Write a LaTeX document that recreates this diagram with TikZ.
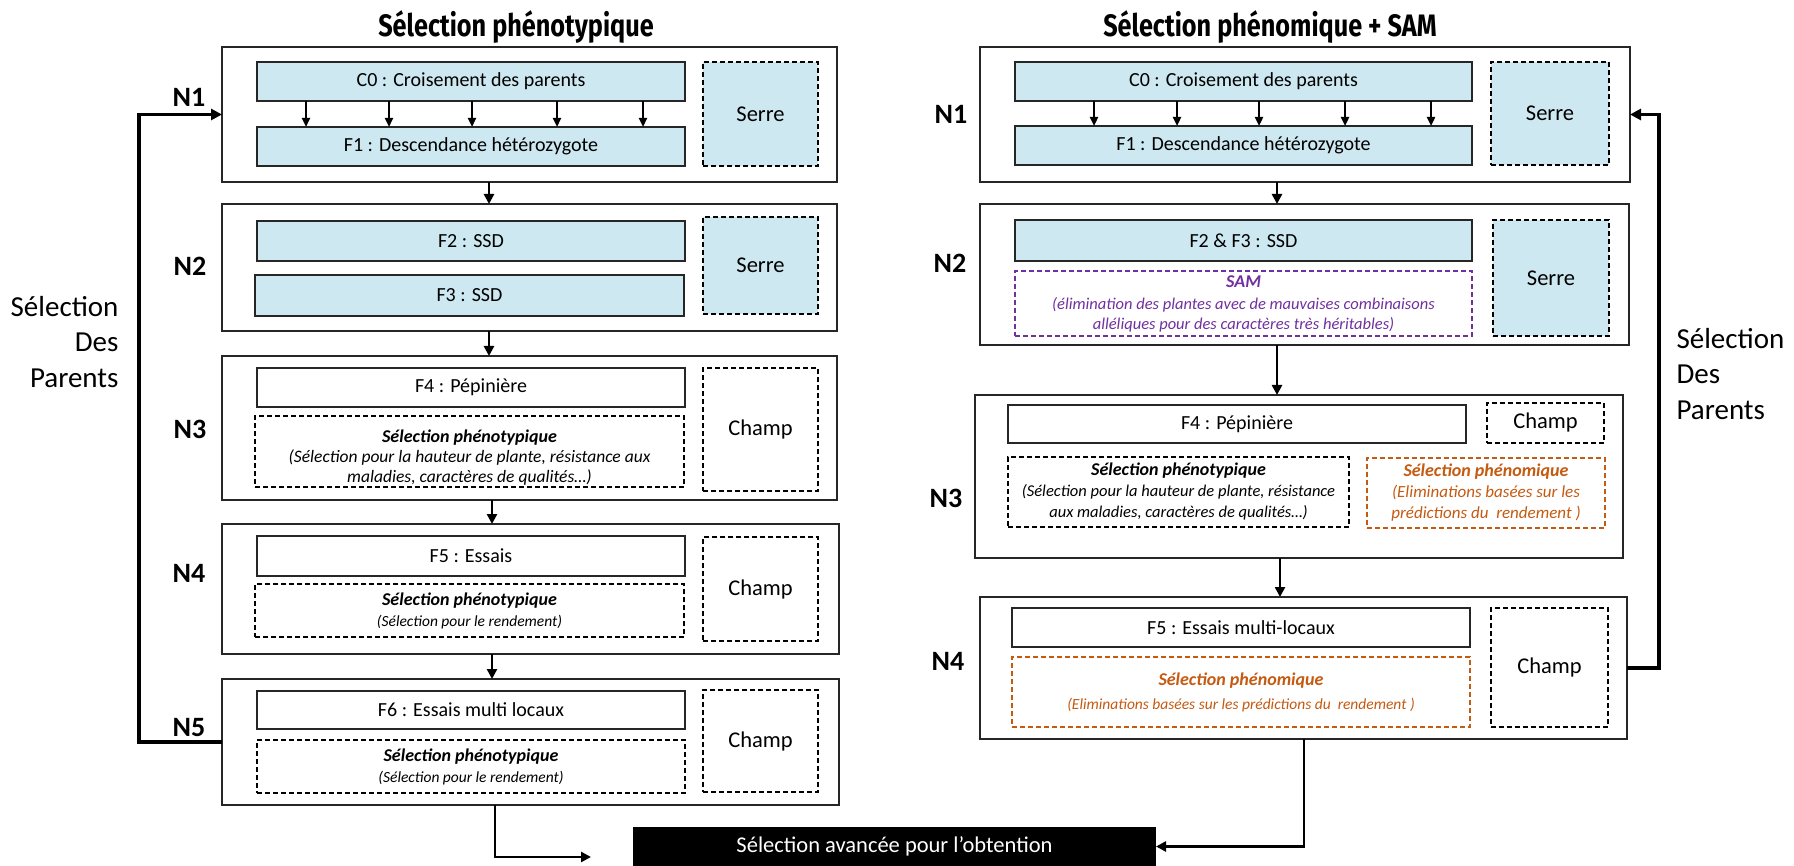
\documentclass[tikz,border=0pt]{standalone}
\usepackage{fontspec}
\setmainfont{Carlito}
\newfontfamily\titlefont{Fira Sans}[FakeStretch=0.815]
\usetikzlibrary{arrows.meta}
\definecolor{lblue}{RGB}{205,232,240}
\definecolor{purp}{RGB}{112,48,160}
\definecolor{orng}{RGB}{197,90,17}
\newcommand{\bx}[7]{\node[#6, anchor=north west, minimum width={#4-#2}, minimum height={#5-#3}] (#1) at (#2,#3) {#7};}
\newcommand{\fbi}{\fontsize{18}{20}\selectfont\bfseries\itshape}
\newcommand{\fsz}[2]{\fontsize{#1}{#2}\selectfont\itshape}
\tikzset{
  outer/.style={draw=black!85, line width=1.8pt, fill=white, inner sep=0pt, outer sep=0pt},
  sbox/.style={draw=black!85, line width=1.8pt, fill=white, inner sep=0pt, outer sep=0pt, font=\fontsize{20}{24}\selectfont},
  bbox/.style={sbox, fill=lblue},
  dbox/.style={draw=black, dash pattern=on 5pt off 3pt, line width=1.3pt, inner sep=0pt, outer sep=0pt, align=center},
  lab/.style={dbox, font=\fontsize{22.5}{26}\selectfont},
  dblue/.style={lab, fill=lblue},
  dpurp/.style={dbox, draw=purp, text=purp},
  dorng/.style={dbox, draw=orng, text=orng},
  nlab/.style={font=\fontsize{28}{32}\selectfont\bfseries},
  ttl/.style={font=\titlefont\bfseries\fontsize{31}{35}\selectfont},
  sdp/.style={font=\fontsize{29}{35.5}\selectfont},
  arr/.style={line width=2.6pt, -{Triangle[length=10pt,width=10pt]}},
  sarr/.style={line width=2.2pt, -{Triangle[length=9pt,width=8pt]}},
  fb/.style={line width=3.5pt, -{Triangle[length=11pt,width=11pt]}},
}
\begin{document}
\begin{tikzpicture}[x=1pt,y=-1pt]
\useasboundingbox (0,0) rectangle (1794,866);
% ---------------- left column
\node[ttl] (tl) at (516,27) {Sélection phénotypique};
\bx{LN1}{222}{47}{837}{182}{outer}{}
\bx{LC0}{257}{62}{685}{101}{bbox}{C0 : Croisement des parents}
\bx{LF1}{257}{127}{685}{166}{bbox}{F1 : Descendance hétérozygote}
\bx{LS1}{703}{62}{818}{166}{dblue}{Serre}
\foreach \x in {306,389,472,557,643} {
  \coordinate (tmp) at (\x,0);
  \draw[sarr] (LC0.south -| tmp) -- (LF1.north -| tmp);
}
\bx{LN2}{222}{204}{837}{331}{outer}{}
\bx{LF2}{257}{221}{685}{261}{bbox}{F2 : SSD}
\bx{LF3}{255}{275}{684}{316}{bbox}{F3 : SSD}
\bx{LS2}{703}{217}{818}{314}{dblue}{Serre}
\bx{LN3}{222}{356}{837}{500}{outer}{}
\bx{LF4}{257}{368}{685}{407}{sbox}{F4 : Pépinière}
\bx{LP3}{255}{416}{684}{487}{dbox, font=\fsz{17.5}{19.5}}{\rule{0pt}{24pt}{\fbi Sélection phénotypique}\\[1pt](Sélection pour la hauteur de plante, résistance aux\\maladies, caractères de qualités…)}
\bx{LC3}{703}{368}{818}{491}{lab}{Champ}
\bx{LN4}{222}{524}{839}{654}{outer}{}
\bx{LF5}{257}{536}{685}{576}{sbox}{F5 : Essais}
\bx{LP4}{255}{584}{684}{637}{dbox, font=\fsz{15.5}{21}}{{\fbi Sélection phénotypique}\\(Sélection pour le rendement)}
\bx{LC4}{703}{537}{818}{641}{lab}{Champ}
\bx{LN5}{222}{679}{839}{805}{outer}{}
\bx{LF6}{257}{691}{685}{729}{sbox}{F6 : Essais multi locaux}
\bx{LP5}{257}{740}{685}{793}{dbox, font=\fsz{15.5}{21}}{{\fbi Sélection phénotypique}\\(Sélection pour le rendement)}
\bx{LC5}{703}{690}{818}{792}{lab}{Champ}
\node[nlab] (ln1) at (189,97) {N1};
\node[nlab] (ln2) at (190,266) {N2};
\node[nlab] (ln3) at (190,429) {N3};
\node[nlab] (ln4) at (189,573) {N4};
\node[nlab] (ln5) at (189,728) {N5};
\coordinate (la) at (489,0);
\coordinate (lb) at (492,0);
\draw[arr] (LN1.south -| la) -- (LN2.north -| la);
\draw[arr] (LN2.south -| la) -- (LN3.north -| la);
\draw[arr] (LN3.south -| lb) -- (LN4.north -| lb);
\draw[arr] (LN4.south -| lb) -- (LN5.north -| lb);
\coordinate (lfb) at (139,400);
\draw[fb] (LN5.west) -| (lfb) |- (LN1.west);
\node[sdp, align=right, anchor=east] (lsdp) at (122,342) {Sélection\\Des\\Parents};
% ---------------- bottom box
\node[fill=black, text=white, anchor=north west, minimum width=523, minimum height=39, inner sep=0pt, outer sep=0pt, font=\fontsize{22.5}{26}\selectfont] (BB) at (633,827) {Sélection avancée pour l’obtention};
\coordinate (lbs) at (495,0);
\coordinate (lbe) at (591,857);
\draw[arr] (LN5.south -| lbs) |- (lbe);
% ---------------- right column
\node[ttl] (tr) at (1270,27) {Sélection phénomique + SAM};
\bx{RN1}{980}{47}{1630}{182}{outer}{}
\bx{RC0}{1015}{62}{1472}{101}{bbox}{C0 : Croisement des parents}
\bx{RF1}{1015}{126}{1472}{165}{bbox}{F1 : Descendance hétérozygote}
\bx{RS1}{1491}{62}{1609}{165}{dblue}{Serre}
\foreach \x in {1094,1177,1259,1345,1431} {
  \coordinate (tmp) at (\x,0);
  \draw[sarr] (RC0.south -| tmp) -- (RF1.north -| tmp);
}
\bx{RN2}{980}{204}{1629}{345}{outer}{}
\bx{RF23}{1015}{220}{1472}{261}{bbox}{F2 \& F3 : SSD}
\bx{RSAM}{1015}{271}{1472}{336}{dpurp, font=\fsz{16.5}{19.5}}{{\fbi SAM}\\[3pt](élimination des plantes avec de mauvaises combinaisons\\alléliques pour des caractères très héritables)}
\bx{RS2}{1493}{220}{1609}{336}{dblue}{Serre}
\bx{RN3}{975}{395}{1623}{558}{outer}{}
\bx{RF4}{1008}{405}{1466}{443}{sbox}{F4 : Pépinière}
\bx{RC3}{1487}{403}{1604}{443}{lab}{Champ}
\bx{RP3}{1008}{457}{1349}{527}{dbox, font=\fsz{16.5}{21}}{{\fbi Sélection phénotypique}\\(Sélection pour la hauteur de plante, résistance\\aux maladies, caractères de qualités…)}
\bx{RO3}{1367}{458}{1605}{528}{dorng, font=\fsz{17}{21}}{{\fbi Sélection phénomique}\\(Eliminations basées sur les\\prédictions du~ rendement )}
\bx{RN4}{980}{597}{1627}{739}{outer}{}
\bx{RF5}{1012}{608}{1470}{647}{sbox}{F5 : Essais multi-locaux}
\bx{RO4}{1012}{657}{1470}{727}{dorng, font=\fsz{15.5}{24}}{{\fbi Sélection phénomique}\\(Eliminations basées sur les prédictions du~ rendement )}
\bx{RC4}{1491}{608}{1608}{727}{lab}{Champ}
\node[nlab] (rn1) at (951,114) {N1};
\node[nlab] (rn2) at (950,263) {N2};
\node[nlab] (rn3) at (946,498) {N3};
\node[nlab] (rn4) at (948,661) {N4};
\coordinate (ra) at (1277,0);
\coordinate (rb) at (1280,0);
\draw[arr] (RN1.south -| ra) -- (RN2.north -| ra);
\draw[arr] (RN2.south -| ra) -- (RN3.north -| ra);
\draw[arr] (RN3.south -| rb) -- (RN4.north -| rb);
\coordinate (rfb) at (1659,400);
\draw[fb] (RN4.east) -| (rfb) |- (RN1.east);
\node[sdp, align=left, anchor=west] (rsdp) at (1673,374) {Sélection\\Des\\Parents};
\coordinate (rbs) at (1304,0);
\draw[arr] (RN4.south -| rbs) |- (BB.east);
\end{tikzpicture}
\end{document}
